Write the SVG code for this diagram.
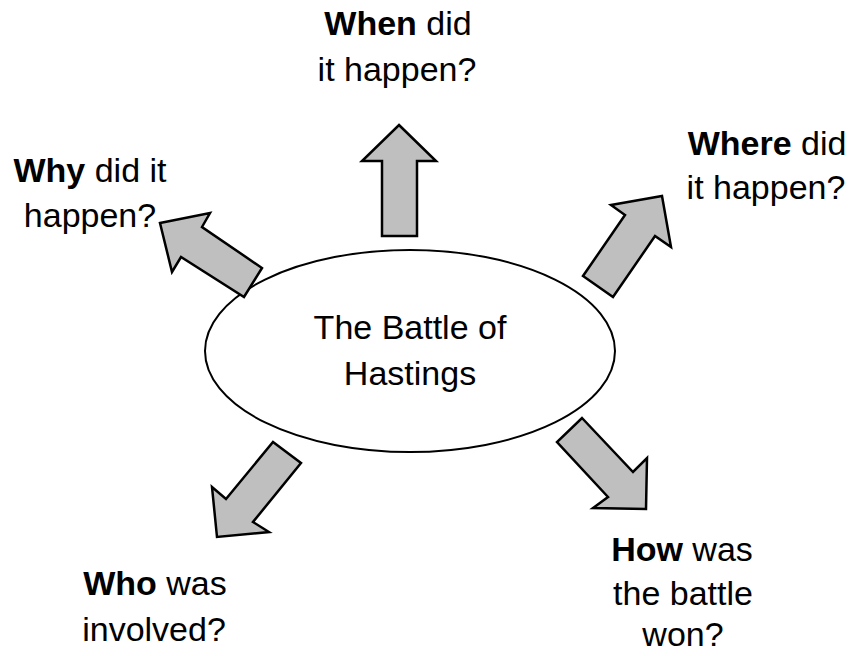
<svg xmlns="http://www.w3.org/2000/svg" width="853" height="656" viewBox="0 0 853 656">
<style>
.t{font-family:"Liberation Sans",Arial,sans-serif;font-size:34px;fill:#000;text-anchor:middle}
.b{font-weight:bold}
.arr{fill:#bfbfbf;stroke:#000;stroke-width:2.5;stroke-linejoin:miter}
</style>
<rect width="853" height="656" fill="#fff"/>
<g id="center">
<ellipse cx="410" cy="351" rx="205" ry="101" fill="#fff" stroke="#000" stroke-width="2"/>
<text class="t" x="410" y="339">The Battle of</text>
<text class="t" x="410" y="385">Hastings</text>
</g>
<g id="connectors">
<polygon class="arr" points="399,125 436,161 417,161 417,236 382,236 382,161 362,161"/>
<polygon class="arr" points="160,223 210,213 202,227 262,268 244,297 181,257 172,272"/>
<polygon class="arr" points="662,196 671,247 655,236 613,297 583,276 625,215 611,205"/>
<polygon class="arr" points="273,442 301,463 253,522 269,532 217,537 212,487 226,499"/>
<polygon class="arr" points="582,418 633,472 647,458 646,509 593,508 608,497 557,442"/>
</g>
<g id="when">
<text class="t" x="398" y="35"><tspan class="b">When</tspan> did</text>
<text class="t" x="397" y="81">it happen?</text>
</g>
<g id="why">
<text class="t" x="90" y="182"><tspan class="b">Why</tspan> did it</text>
<text class="t" x="90" y="227">happen?</text>
</g>
<g id="where">
<text class="t" x="767" y="155"><tspan class="b">Where</tspan> did</text>
<text class="t" x="766" y="199">it happen?</text>
</g>
<g id="who">
<text class="t" x="155" y="595"><tspan class="b">Who</tspan> was</text>
<text class="t" x="154" y="641">involved?</text>
</g>
<g id="how">
<text class="t" x="682" y="561"><tspan class="b">How</tspan> was</text>
<text class="t" x="683" y="605">the battle</text>
<text class="t" x="683" y="646">won?</text>
</g>
</svg>
